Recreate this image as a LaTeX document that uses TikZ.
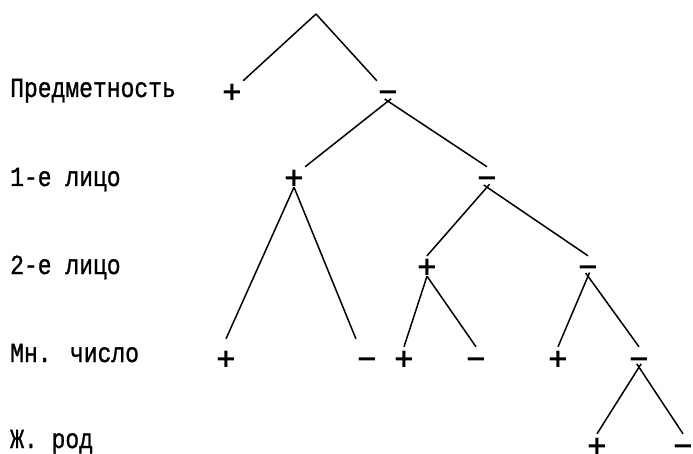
\documentclass[tikz,border=0pt]{standalone}
\usepackage{fontspec}
\usepackage{graphicx}
\setmainfont{Liberation Mono}
\newfontfamily\lblfont[FakeBold=1.2]{Liberation Mono}
\newfontfamily\signfont{DejaVu Sans}
\newcommand{\rowlabel}[1]{\scalebox{1}[1.2]{#1}}
\begin{document}
\begin{tikzpicture}[x=1pt,y=-1pt,
  lbl/.style={anchor=base west, inner sep=0pt, font=\lblfont\fontsize{23}{23}\selectfont},
  sgn/.style={inner sep=0pt, font=\signfont\bfseries\fontsize{26}{26}\selectfont, text height=20pt, text depth=0pt, minimum width=18pt},
  edge/.style={line width=1.5pt},
  fm/.style={shorten <=-4pt}]
\useasboundingbox (0,0) rectangle (693,454);
% row labels
\node[lbl] (t1) at (10,97)  {\rowlabel{Предметность}};
\node[lbl] (t2) at (10,186) {\rowlabel{1-е лицо}};
\node[lbl] (t3) at (10,274) {\rowlabel{2-е лицо}};
\node[lbl] (t4) at (10,362) {\rowlabel{Мн. число}};
\node[lbl] (t5) at (10,448) {\rowlabel{Ж. род}};
% tree
\coordinate (r) at (316,14);
\node[sgn] (p1) at (232,91) {+};
\node[sgn] (m1) at (388,91) {−};
\node[sgn] (p2) at (294,177) {+};
\node[sgn] (m2) at (487,177) {−};
\node[sgn] (p3) at (427,266) {+};
\node[sgn] (m3) at (588,266) {−};
\node[sgn] (l1) at (226,357) {+};
\node[sgn] (l2) at (367,357) {−};
\node[sgn] (l3) at (404,357) {+};
\node[sgn] (l4) at (476,357) {−};
\node[sgn] (l5) at (558,357) {+};
\node[sgn] (m4) at (639,357) {−};
\node[sgn] (l6) at (597,444) {+};
\node[sgn] (l7) at (683,444) {−};
\begin{scope}[edge]
\draw (r) -- (p1.north east);
\draw (r) -- (m1.north west);
\draw[fm] (m1.south) -- (p2.north east);
\draw[fm] (m1.south) -- (m2.north);
\draw (p2.south) -- ([shift={(0,-8)}]l1.north);
\draw (p2.south) -- ([shift={(0,-8)}]l2.north west);
\draw[fm] (m2.south) -- (p3.north);
\draw[fm] (m2.south) -- (m3.north);
\draw (p3.south) -- (l3.north);
\draw (p3.south) -- (l4.north);
\draw[fm] (m3.south) -- (l5.north);
\draw[fm] (m3.south) -- (m4.north);
\draw[fm] (m4.south) -- (l6.north);
\draw[fm] (m4.south) -- (l7.north);
\end{scope}
\end{tikzpicture}
\end{document}
